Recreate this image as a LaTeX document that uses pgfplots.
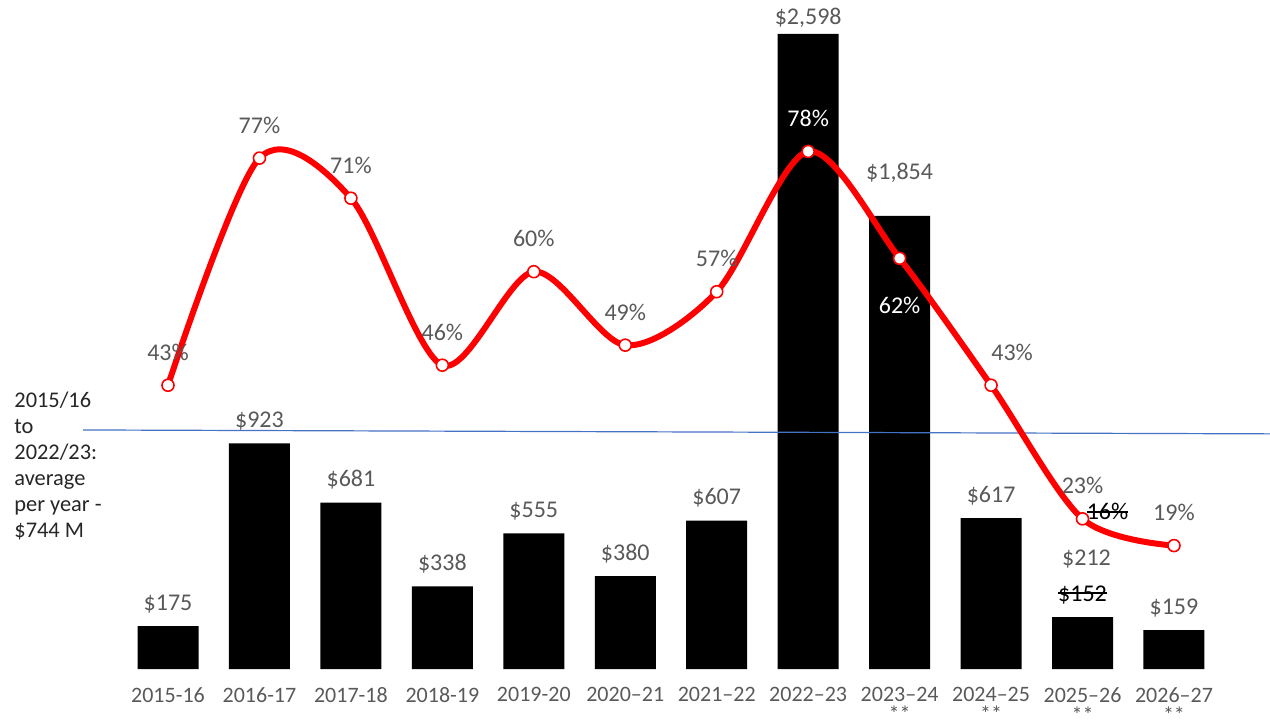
\documentclass[border=0pt]{standalone}
\usepackage{pgfplots}
\pgfplotsset{compat=1.18}
\usepackage{fontspec}
\setmainfont{Carlito}
\newsavebox\strikebox
\newcommand{\strike}[1]{\sbox\strikebox{#1}\rlap{\usebox\strikebox}\rule[0.3em]{\wd\strikebox}{0.07em}}
\definecolor{lblgray}{HTML}{595959}
\definecolor{avgblue}{HTML}{4472C4}
\definecolor{txtdark}{HTML}{262626}
\begin{document}
\begin{tikzpicture}
\pgfplotsset{
  common/.style={
    at={(41.5pt,28pt)}, anchor=south west, scale only axis,
    width=593.5pt, height=332.5pt,
    xmin=-0.9295, xmax=12.05, clip=false,
  }
}
\begin{axis}[common, ymin=0, ymax=2720.7,
  axis line style={draw=none}, ytick=\empty,
  xtick={0,...,11}, major tick length=0pt,
  xticklabels={2015-16,2016-17,2017-18,2018-19,2019-20,2020--21,2021--22,2022--23,
    {2023--24\\[-2pt]{\fontsize{11}{12}\selectfont**}},{2024--25\\[-2pt]{\fontsize{11}{12}\selectfont**}},
    {2025--26\\[-2pt]{\fontsize{11}{12}\selectfont**}},{2026--27\\[-2pt]{\fontsize{11}{12}\selectfont**}}},
  xticklabel style={font=\fontsize{11}{12}\selectfont, text=lblgray, align=center, anchor=north, yshift=-9pt, inner sep=0pt},
]
\addplot[ybar, bar width=30.5pt, fill=black, draw=none] coordinates
 {(0,175) (1,923) (2,681) (3,338) (4,555) (5,380) (6,607) (7,2598) (8,1854) (9,617) (10,212) (11,159)};
\addplot[draw=none, mark=none, nodes near coords, point meta=explicit symbolic,
  nodes near coords style={anchor=base, yshift=8pt, font=\fontsize{12}{14}\selectfont, text=lblgray}]
 coordinates {(0,175)[\$175] (1,923)[\$923] (2,681)[\$681] (3,338)[\$338] (4,555)[\$555] (5,380)[\$380]
  (6,607)[\$607] (9,617)[\$617] (10,212)[\textcolor{black}{\strike{\$152}}] (11,159)[\$159]};
\addplot[color=avgblue, line width=0.6pt] coordinates {(-0.9295,978) (12.05,962)};
\node[anchor=base, yshift=4.5pt, text=lblgray, font=\fontsize{12}{14}\selectfont] at (axis cs:7,2598) {\$2,598};
\node[anchor=base, yshift=18pt, text=lblgray, font=\fontsize{12}{14}\selectfont] at (axis cs:8,1854) {\$1,854};
\node[anchor=base, yshift=26pt, xshift=2pt, text=lblgray, font=\fontsize{12}{14}\selectfont] at (axis cs:10,212) {\$212};
\end{axis}
\begin{axis}[common, ymin=0.524, ymax=100.07, hide axis]
\addplot[color=red, line width=3pt, smooth, mark=*, mark size=3pt,
  mark options={fill=white, draw=red, line width=0.8pt, solid},
  nodes near coords, point meta=explicit symbolic,
  nodes near coords style={anchor=base, yshift=12.5pt, font=\fontsize{12}{14}\selectfont, text=lblgray}]
 coordinates {(0,43)[43\%] (1,77)[77\%] (2,71)[71\%] (3,46)[46\%] (4,60)[60\%] (5,49)[49\%]
  (6,57)[57\%] (7,78)[\textcolor{white}{78\%}] (8,62)[] (9,43)[] (10,23)[23\%] (11,19)[19\%]};
\node[anchor=base, yshift=-27.5pt, text=white, font=\fontsize{12}{14}\selectfont] at (axis cs:8,62) {62\%};
\node[anchor=base, yshift=12.5pt, xshift=10.5pt, text=lblgray, font=\fontsize{12}{14}\selectfont] at (axis cs:9,43) {43\%};
\node[anchor=base, yshift=-0.5pt, xshift=12.5pt, text=black, font=\fontsize{12}{14}\selectfont] at (axis cs:10,23) {\strike{16\%}};
\end{axis}
\begin{scope}[font=\fontsize{11.2}{13}\selectfont, text=txtdark]
\node[anchor=base west, inner sep=0pt] at (7pt,159pt) {2015/16};
\node[anchor=base west, inner sep=0pt] at (7pt,146pt) {to};
\node[anchor=base west, inner sep=0pt] at (7pt,133pt) {2022/23:};
\node[anchor=base west, inner sep=0pt] at (7pt,120pt) {average};
\node[anchor=base west, inner sep=0pt] at (7pt,107pt) {per year -};
\node[anchor=base west, inner sep=0pt] at (7pt,94pt) {\$744 M};
\end{scope}
\pgfresetboundingbox
\useasboundingbox (0,0) rectangle (635pt,362.5pt);
\end{tikzpicture}
\end{document}
